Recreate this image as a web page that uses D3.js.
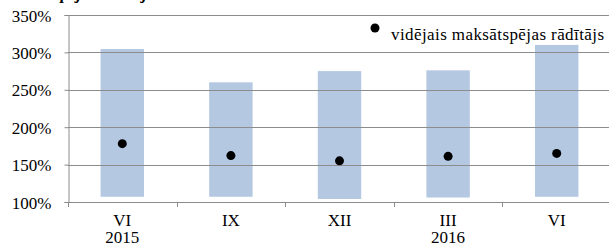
<!DOCTYPE html>
<html>
<head>
<meta charset="utf-8">
<script src="https://cdn.jsdelivr.net/npm/d3@7"></script>
<style>
  body { margin: 0; background: #fff; }
  svg text { font-family: "Liberation Serif", "Times New Roman", serif !important; }
</style>
</head>
<body>
<svg id="chart" width="609" height="246"></svg>
<script>
const categories = ['VI', 'IX', 'XII', 'III', 'VI'];
const years = ['2015', '', '', '2016', ''];
const rangeLow = [107, 107, 104, 106, 107];
const rangeHigh = [304.5, 260, 275, 276, 310];
const average = [178, 162, 155, 161, 165];
const yTicks = [100, 150, 200, 250, 300, 350];

const svg = d3.select('#chart');
const margin = { top: 15, right: -2, bottom: 44, left: 68 };
const width = +svg.attr('width');
const height = +svg.attr('height');

const x = d3.scaleBand()
  .domain(d3.range(categories.length))
  .range([margin.left, width - margin.right])
  .paddingInner(0.6)
  .paddingOuter(0.3);

const xOuter = d3.scaleBand()
  .domain(d3.range(categories.length))
  .range([margin.left, width - margin.right]);

const y = d3.scaleLinear()
  .domain([100, 350])
  .range([height - margin.bottom, margin.top]);

// title, mostly cut off above the picture
svg.append('text')
  .attr('x', 2)
  .attr('y', -1)
  .attr('font-weight', 'bold')
  .attr('font-style', 'italic')
  .attr('font-size', 17)
  .text('Maksātspējas rādītājs');

// floating range bars
svg.append('g')
  .selectAll('rect')
  .data(categories)
  .join('rect')
    .attr('x', (d, i) => x(i))
    .attr('width', x.bandwidth())
    .attr('y', (d, i) => y(rangeHigh[i]))
    .attr('height', (d, i) => y(rangeLow[i]) - y(rangeHigh[i]))
    .attr('fill', '#b4c8e2');

// gridlines
svg.append('g')
  .selectAll('line')
  .data(yTicks)
  .join('line')
    .attr('x1', margin.left)
    .attr('x2', width)
    .attr('y1', d => Math.round(y(d)) + 0.5)
    .attr('y2', d => Math.round(y(d)) + 0.5)
    .attr('stroke', '#8c8c8c')
    .attr('stroke-width', 1);

// y axis
const yAxis = svg.append('g')
  .attr('transform', `translate(${margin.left + 0.5},0)`)
  .call(d3.axisLeft(y).tickValues(yTicks).tickSize(4).tickFormat(d => `${d}%`));
yAxis.select('.domain').attr('stroke', '#8c8c8c');
yAxis.selectAll('.tick line').attr('stroke', '#8c8c8c');
yAxis.selectAll('.tick text')
  .attr('x', -17)
  .attr('dy', '0.36em')
  .attr('font-size', 17)
  .attr('fill', '#000');

// x axis ticks at category boundaries
const bounds = d3.range(categories.length + 1).map(i =>
  i < categories.length ? xOuter(i) : xOuter(i - 1) + xOuter.bandwidth());
svg.append('g')
  .selectAll('line')
  .data(bounds)
  .join('line')
    .attr('x1', d => Math.round(d) + 0.5)
    .attr('x2', d => Math.round(d) + 0.5)
    .attr('y1', y(100))
    .attr('y2', y(100) + 5)
    .attr('stroke', '#8c8c8c');

const labels = svg.append('g')
  .attr('font-size', 17)
  .attr('text-anchor', 'middle');
labels.selectAll('.cat')
  .data(categories)
  .join('text')
    .attr('class', 'cat')
    .attr('x', (d, i) => xOuter(i) + xOuter.bandwidth() / 2)
    .attr('y', 226)
    .text(d => d);
labels.selectAll('.year')
  .data(years)
  .join('text')
    .attr('class', 'year')
    .attr('x', (d, i) => xOuter(i) + xOuter.bandwidth() / 2)
    .attr('y', 243)
    .text(d => d);

// average markers
svg.append('g')
  .selectAll('circle')
  .data(average)
  .join('circle')
    .attr('cx', (d, i) => x(i) + x.bandwidth() / 2)
    .attr('cy', d => y(d))
    .attr('r', 4.5)
    .attr('fill', '#000');

// legend
const legend = svg.append('g').attr('transform', 'translate(375,28)');
legend.append('circle').attr('r', 4.5).attr('fill', '#000');
legend.append('text')
  .attr('x', 16)
  .attr('y', 12)
  .attr('font-size', 17)
  .attr('textLength', 213)
  .text('vidējais maksātspējas rādītājs');
</script>
</body>
</html>
